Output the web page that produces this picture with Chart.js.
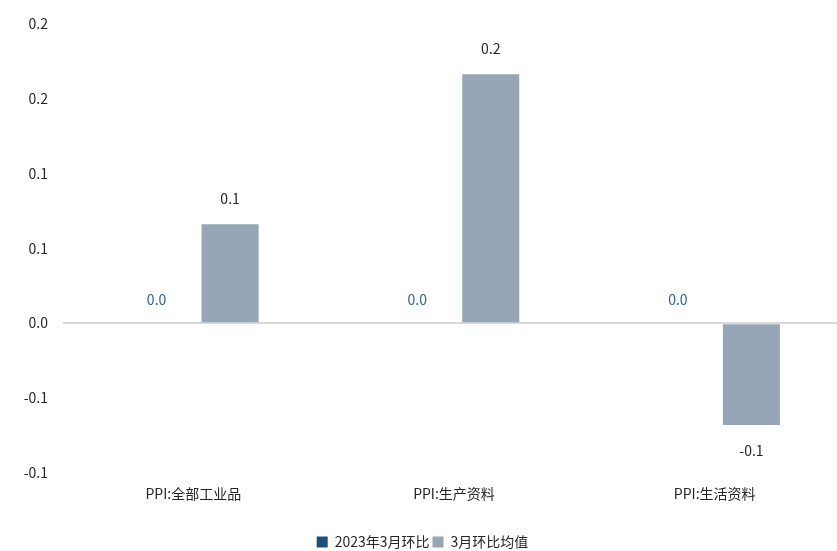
<!DOCTYPE html>
<html lang="zh-CN">
<head>
    <meta charset="UTF-8">
    <title>PPI 环比</title>
    <script src="https://cdnjs.cloudflare.com/ajax/libs/Chart.js/4.4.0/chart.umd.min.js"></script>
    <style>
        html, body { margin: 0; padding: 0; background: #fff; overflow: hidden; }
        #wrap { width: 837px; height: 551px; overflow: hidden; }
    </style>
</head>
<body>
    <div id="wrap"><canvas id="ppiChart" width="845" height="559"></canvas></div>

    <script>
        const categories = ['PPI:全部工业品', 'PPI:生产资料', 'PPI:生活资料'];
        const seriesNames = ['2023年3月环比', '3月环比均值'];
        const march2023 = [0, 0, 0];
        const marchAvg = [0.066, 0.166, -0.068];
        const yTicks = [0.2, 0.15, 0.1, 0.05, 0, -0.05, -0.1];

        const FONT = '"Noto Sans CJK SC", "Noto Sans", sans-serif';

        // Excel-like rounding to one decimal (half away from zero)
        function fmt(v) {
            const s = v < 0 ? -1 : 1;
            const r = Math.round(Math.abs(v) * 10 + 1e-9) / 10;
            return (s < 0 && r > 0 ? '-' : '') + r.toFixed(1);
        }

        // value labels above / below bars
        const barLabels = {
            id: 'barLabels',
            afterDatasetsDraw(chart) {
                const ctx = chart.ctx;
                ctx.save();
                ctx.font = '14px ' + FONT;
                ctx.textAlign = 'center';
                ctx.textBaseline = 'middle';
                chart.data.datasets.forEach((ds, i) => {
                    const meta = chart.getDatasetMeta(i);
                    meta.data.forEach((bar, j) => {
                        const v = ds.data[j];
                        ctx.fillStyle = i === 0 ? '#2E6496' : '#262626';
                        const y = v < 0 ? bar.y + 26 : bar.y - (v === 0 ? 23 : 26);
                        ctx.fillText(fmt(v), bar.x, y);
                    });
                });
                ctx.restore();
            }
        };

        new Chart(document.getElementById('ppiChart'), {
            type: 'bar',
            data: {
                labels: categories,
                datasets: [
                    {
                        label: seriesNames[0],
                        data: march2023,
                        backgroundColor: '#1F4E79'
                    },
                    {
                        label: seriesNames[1],
                        data: marchAvg,
                        backgroundColor: '#97A6B7'
                    }
                ]
            },
            options: {
                responsive: false,
                animation: false,
                layout: { padding: { top: 19, right: 0, bottom: 0, left: 0 } },
                datasets: {
                    bar: { categoryPercentage: 0.564, barPercentage: 0.776 }
                },
                plugins: {
                    tooltip: { enabled: false },
                    legend: {
                        position: 'bottom',
                        labels: {
                            font: { size: 14, family: FONT },
                            color: '#262626',
                            boxWidth: 11,
                            boxHeight: 11,
                            padding: 3
                        }
                    }
                },
                scales: {
                    x: {
                        grid: { display: false, drawTicks: false },
                        border: { display: false },
                        ticks: { font: { size: 14, family: FONT }, color: '#262626', padding: 12 },
                        afterFit(axis) { axis.height = 59; }
                    },
                    y: {
                        min: -0.1,
                        max: 0.2,
                        afterBuildTicks(axis) { axis.ticks = yTicks.map(v => ({ value: v })); },
                        afterFit(axis) { axis.width = 63; },
                        border: { display: false },
                        grid: {
                            drawTicks: false,
                            lineWidth: 2,
                            color: c => (c.tick && c.tick.value === 0 ? '#D9D9D9' : 'rgba(0,0,0,0)')
                        },
                        ticks: {
                            font: { size: 14, family: FONT },
                            color: '#262626',
                            padding: 15,
                            callback: v => fmt(v)
                        }
                    }
                }
            },
            plugins: [barLabels]
        });
    </script>
</body>
</html>
